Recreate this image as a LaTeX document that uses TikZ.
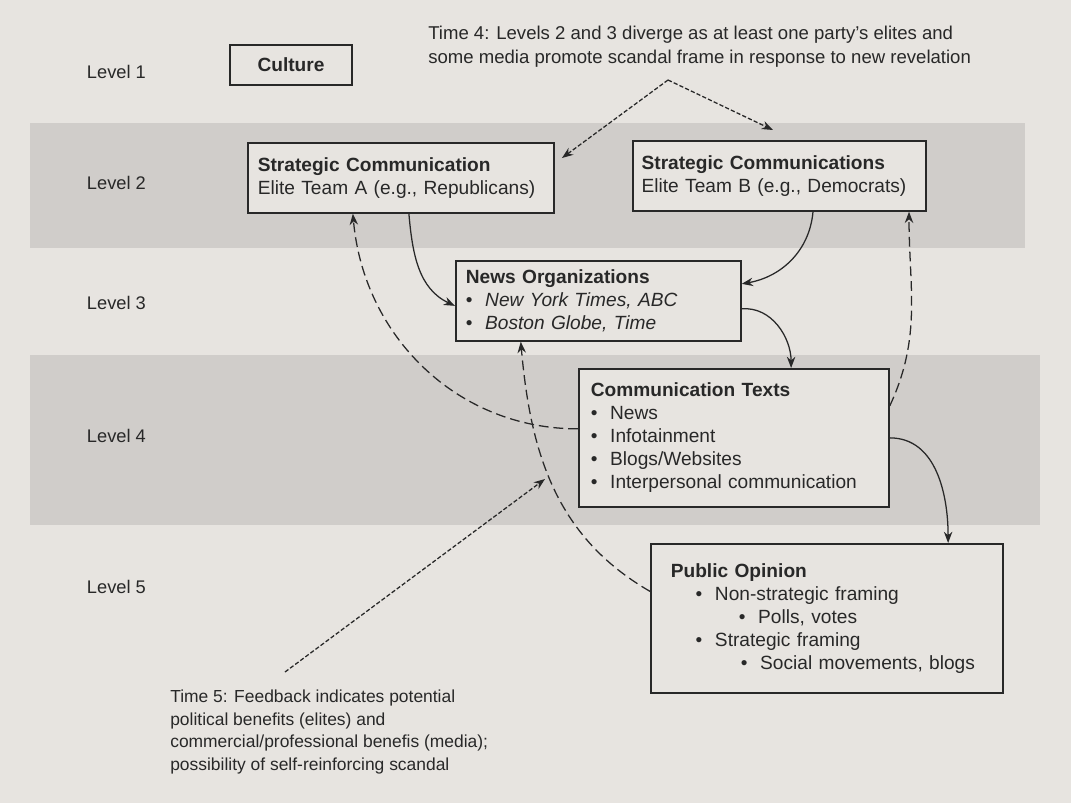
\documentclass[tikz,border=0pt]{standalone}
\usepackage{fontspec}
\setmainfont{Liberation Sans}
\usetikzlibrary{positioning, arrows.meta}
\definecolor{page}{RGB}{231,228,224}
\definecolor{band}{RGB}{208,205,202}
\definecolor{ink}{RGB}{40,40,40}
\newcommand{\itm}{\textbullet\hspace{9pt}}

\begin{document}
\begin{tikzpicture}[x=0.025cm, y=-0.025cm, >={Stealth[length=8pt, width=6pt]},
	font=\fontsize{13.6}{16.3}\selectfont,
	box/.style={draw=ink, line width=1.2pt, fill=page, text=ink, anchor=north west, align=left, inner ysep=0pt},
	flow/.style={draw=ink, line width=0.9pt, ->},
	feedback/.style={flow, dash pattern=on 7pt off 3.5pt},
	timeline/.style={flow, dash pattern=on 3pt off 1.5pt},
	note/.style={text=ink, anchor=north west, align=left, inner sep=0pt}]

	% page and level bands
	\fill[page] (0, 0) rectangle (1071, 803);
	\fill[band] (30, 123) rectangle (1025, 248);
	\fill[band] (30, 355) rectangle (1040, 525);

	\foreach \n/\y in {1/72,2/183,3/303,4/436,5/587}
		\node[text=ink, anchor=west, font=\fontsize{13}{15}\selectfont] (L\n) at (82, \y) {Level \n};

	% boxes
	\node[box, anchor=center, minimum width=3.05cm, minimum height=1cm] (culture) at (291, 65) {\textbf{Culture}};
	\node[box, inner xsep=0.25cm, text width=7.15cm, minimum height=1.75cm] (eliteA) at (247, 142)
		{\textbf{Strategic Communication}\\Elite Team A (e.g., Republicans)};
	\node[box, inner xsep=0.22cm, text width=6.885cm, minimum height=1.75cm] (eliteB) at (632, 140)
		{\textbf{Strategic Communications}\\Elite Team B (e.g., Democrats)};
	\node[box, inner xsep=0.25cm, text width=6.625cm, minimum height=2cm] (news) at (455, 260)
		{\textbf{News Organizations}\\\itm\textit{New York Times, ABC}\\\itm\textit{Boston Globe, Time}};
	\node[box, inner xsep=0.3cm, text width=7.15cm, minimum height=3.45cm] (texts) at (578, 368)
		{\textbf{Communication Texts}\\\itm News\\\itm Infotainment\\\itm Blogs/Websites\\\itm Interpersonal communication};
	\node[box, inner xsep=0.5cm, text width=7.8cm, minimum height=3.725cm] (opinion) at (650, 543)
		{\textbf{Public Opinion}\\
		\hspace*{0.62cm}\itm Non-strategic framing\\
		\hspace*{1.7cm}\itm Polls, votes\\
		\hspace*{0.62cm}\itm Strategic framing\\
		\hspace*{1.75cm}\itm Social movements, blogs};

	% time notes
	\node[note, font=\fontsize{13.2}{17}\selectfont] (time4) at (428, 26)
		{Time 4: Levels 2 and 3 diverge as at least one party's elites and\\
		some media promote scandal frame in response to new revelation};
	\node[note, font=\fontsize{12.4}{16}\selectfont] (time5) at (170, 690)
		{Time 5: Feedback indicates potential\\
		political benefits (elites) and\\
		commercial/professional benefis (media);\\
		possibility of self-reinforcing scandal};
	\coordinate (apex) at (668, 80);
	\coordinate (t5start) at (285, 672);
	\coordinate (t5end) at (545, 479);

	\draw[timeline] (apex) -- ([xshift=0.18cm, yshift=-0.4cm]eliteA.north east);
	\draw[timeline] (apex) -- ([xshift=-0.16cm, yshift=0.25cm]eliteB.north);
	\draw[timeline] (t5start) -- (t5end);

	% solid flow
	\draw[flow] ([xshift=0.2cm]eliteA.south) to[out=-85, in=155] ([yshift=-0.125cm]news.west);
	\draw[flow] ([xshift=0.84cm]eliteB.south) to[out=-95, in=10] ([yshift=0.425cm]news.east);
	\draw[flow] ([yshift=-0.2cm]news.east) to[out=5, in=90] ([xshift=1.43cm]texts.north);
	\draw[flow] (texts.east) to[out=0, in=90] ([xshift=3.03cm]opinion.north);

	% feedback
	\draw[feedback] ([yshift=0.225cm]texts.west) to[out=180, in=-85] ([xshift=-1.2cm]eliteA.south);
	\draw[feedback] ([yshift=0.8cm]texts.east) to[out=65, in=-90] ([xshift=3.24cm]eliteB.south);
	\draw[feedback] ([yshift=0.675cm]opinion.west) to[out=150, in=-85] ([xshift=-1.94cm]news.south);

\end{tikzpicture}
\end{document}
